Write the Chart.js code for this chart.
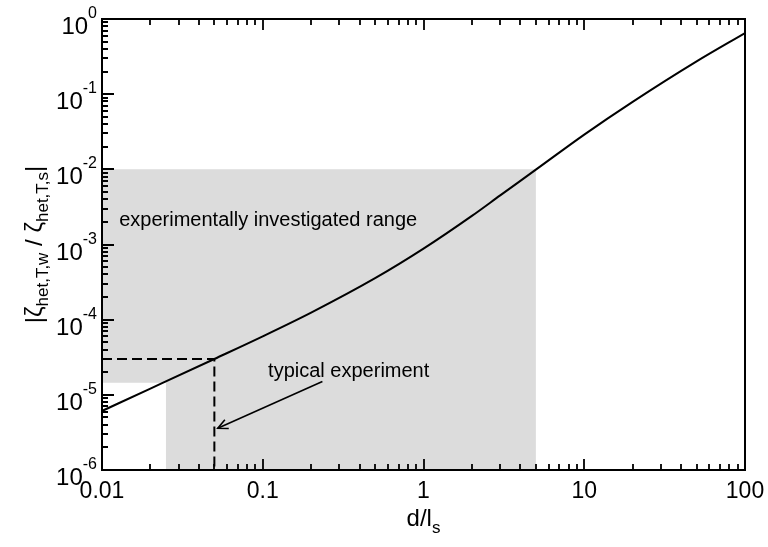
<!DOCTYPE html>
<html>
<head>
<meta charset="utf-8">
<script src="https://cdn.jsdelivr.net/npm/chart.js@4.4.1/dist/chart.umd.min.js"></script>
<style>
  html, body { margin: 0; padding: 0; background: #fff; }
  #wrap { width: 768px; height: 547px; }
</style>
</head>
<body>
<div id="wrap"><canvas id="chart" width="768" height="547"></canvas></div>
<script>
(function(){
  // Curve: |zeta_het,T,w / zeta_het,T,s| vs d/l_s
  const curveX = [0.01, 0.02, 0.05, 0.1, 0.2, 0.5, 1, 2, 3, 5, 10, 20, 50, 100]
  const curveY = [6.1e-6, 1.21e-5, 3.0e-5, 6.0e-5, 1.24e-4, 3.56e-4, 8.8e-4, 2.4e-3, 4.5e-3, 9.9e-3, 2.9e-2, 7.9e-2, 0.273, 0.65]

  // Shaded "experimentally investigated range" outline
  const rangeX = [0.01, 5, 5, 0.025, 0.025, 0.01]
  const rangeY = [1e-2, 1e-2, 1e-6, 1e-6, 1.45e-5, 1.45e-5]

  // Dashed guide for the typical experiment
  const typicalX = [0.01, 0.05, 0.05]
  const typicalY = [3e-5, 3e-5, 1e-6]

  // Arrow: from label to the dashed line
  const arrowX = [0.235, 0.0525]
  const arrowY = [1.5e-5, 3.6e-6]

  // Axes
  const xMin = 0.01, xMax = 100
  const yMin = 1e-6, yMax = 1
  const xTickValues = [0.01, 0.1, 1, 10, 100]
  const xTickLabels = ['0.01', '0.1', '1', '10', '100']
  const yTickValues = [1, 1e-1, 1e-2, 1e-3, 1e-4, 1e-5, 1e-6]
  const yTickExps   = ['0', '-1', '-2', '-3', '-4', '-5', '-6']

  // Text notes (data coordinates)
  const rangeNote   = { text: 'experimentally investigated range', x: 0.0128, y: 2.1e-3 }
  const typicalNote = { text: 'typical experiment', x: 0.108, y: 2.05e-5 }

  const FONT = '"Liberation Sans", Arial, Helvetica, sans-serif'
  const pts = (xs, ys) => xs.map((v, i) => ({ x: v, y: ys[i] }))

  // UTIL: decade + minor tick list for a log axis
  function logTicks(min, max){
    const out = []
    const e0 = Math.round(Math.log10(min)), e1 = Math.round(Math.log10(max))
    for(let e = e0; e < e1; e++)
      for(let m = 1; m < 10; m++) out.push({ v: m * Math.pow(10, e), major: m === 1 })
    out.push({ v: max, major: true })
    return out
  }

  // pieces are [text, size, dy]; drawn left to right from x on baseline y
  function runWidth(ctx, parts){
    return parts.reduce((w, p) => { ctx.font = p[1] + 'px ' + FONT; return w + ctx.measureText(p[0]).width }, 0)
  }
  function drawRun(ctx, parts, x, y){
    parts.forEach(p => {
      ctx.font = p[1] + 'px ' + FONT
      ctx.fillText(p[0], x, y + p[2])
      x += ctx.measureText(p[0]).width
    })
  }

  const framePlugin = {
    id: 'frame',
    afterDatasetsDraw(chart){
      const { ctx, chartArea: a, scales: { x, y } } = chart
      ctx.save()
      ctx.fillStyle = '#000'
      ctx.strokeStyle = '#000'

      // arrow head (open V) at the tip of the arrow dataset
      const ad = chart.getDatasetMeta(3).data
      if(ad.length === 2){
        const p0 = ad[0], p1 = ad[1]
        const ang = Math.atan2(p1.y - p0.y, p1.x - p0.x)
        const len = 11, spread = 0.45
        ctx.lineWidth = 1.6
        ctx.beginPath()
        ctx.moveTo(p1.x - len * Math.cos(ang - spread), p1.y - len * Math.sin(ang - spread))
        ctx.lineTo(p1.x, p1.y)
        ctx.lineTo(p1.x - len * Math.cos(ang + spread), p1.y - len * Math.sin(ang + spread))
        ctx.stroke()
      }

      // frame
      ctx.lineWidth = 2
      ctx.strokeRect(a.left, a.top, a.right - a.left, a.bottom - a.top)

      // inward ticks: bottom + top for x, left for y
      ctx.lineWidth = 1.8
      ctx.beginPath()
      logTicks(xMin, xMax).forEach(t => {
        const px = Math.round(x.getPixelForValue(t.v))
        const l = t.major ? 11 : 6
        ctx.moveTo(px, a.bottom); ctx.lineTo(px, a.bottom - l)
        ctx.moveTo(px, a.top);    ctx.lineTo(px, a.top + l)
      })
      logTicks(yMin, yMax).forEach(t => {
        const py = Math.round(y.getPixelForValue(t.v))
        const l = t.major ? 12 : 6
        ctx.moveTo(a.left, py); ctx.lineTo(a.left + l, py)
      })
      ctx.stroke()

      // x tick labels
      ctx.textBaseline = 'alphabetic'
      ctx.textAlign = 'center'
      ctx.font = '23px ' + FONT
      xTickValues.forEach((v, i) => {
        ctx.fillText(xTickLabels[i], x.getPixelForValue(v), a.bottom + 28)
      })

      // y tick labels 10^n
      ctx.textAlign = 'left'
      yTickValues.forEach((v, i) => {
        const py = y.getPixelForValue(v)
        const parts = [['10', 24, 15], [yTickExps[i], 16, -1]]
        const w = runWidth(ctx, parts)
        drawRun(ctx, parts, a.left - 5 - w, py)
      })

      // x title d/l_s
      const xt = [['d/l', 24, 0], ['s', 17, 7]]
      const xw = runWidth(ctx, xt)
      drawRun(ctx, xt, (a.left + a.right) / 2 - xw / 2, a.bottom + 56)

      // y title |zeta_het,T,w / zeta_het,T,s|
      const yt = [['|', 24, 0], ['ζ', 24, 0], ['het,T,w', 17, 6], [' / ', 24, 0],
                  ['ζ', 24, 0], ['het,T,s', 17, 6], ['|', 24, 0]]
      const yw = runWidth(ctx, yt)
      ctx.save()
      ctx.translate(42, (a.top + a.bottom) / 2)
      ctx.rotate(-Math.PI / 2)
      drawRun(ctx, yt, -yw / 2, 0)
      ctx.restore()

      // notes
      ctx.textBaseline = 'middle'
      ctx.font = '20px ' + FONT
      ;[rangeNote, typicalNote].forEach(n => {
        ctx.fillText(n.text, x.getPixelForValue(n.x), y.getPixelForValue(n.y))
      })

      ctx.restore()
    }
  }

  new Chart(document.getElementById('chart').getContext('2d'), {
    type: 'scatter',
    data: {
      datasets: [
        // higher order = drawn first (underneath)
        { label: 'range', data: pts(rangeX, rangeY), showLine: true, fill: 'shape', order: 10,
          backgroundColor: '#dcdcdc', borderWidth: 0, pointRadius: 0, tension: 0 },
        { label: 'curve', data: pts(curveX, curveY), showLine: true, fill: false, order: 1,
          borderColor: '#000', borderWidth: 2, pointRadius: 0, cubicInterpolationMode: 'monotone' },
        { label: 'typical', data: pts(typicalX, typicalY), showLine: true, fill: false, order: 2,
          borderColor: '#000', borderWidth: 2, borderDash: [10, 5], pointRadius: 0, tension: 0 },
        { label: 'arrow', data: pts(arrowX, arrowY), showLine: true, fill: false, order: 3,
          borderColor: '#000', borderWidth: 1.6, pointRadius: 0, tension: 0 }
      ]
    },
    options: {
      responsive: false,
      animation: false,
      devicePixelRatio: 1,
      layout: { padding: { left: 102, top: 19, right: 23, bottom: 77 } },
      plugins: { legend: { display: false }, tooltip: { enabled: false } },
      scales: {
        x: { type: 'logarithmic', min: xMin, max: xMax, display: false },
        y: { type: 'logarithmic', min: yMin, max: yMax, display: false }
      }
    },
    plugins: [framePlugin]
  })
})();
</script>
</body>
</html>
